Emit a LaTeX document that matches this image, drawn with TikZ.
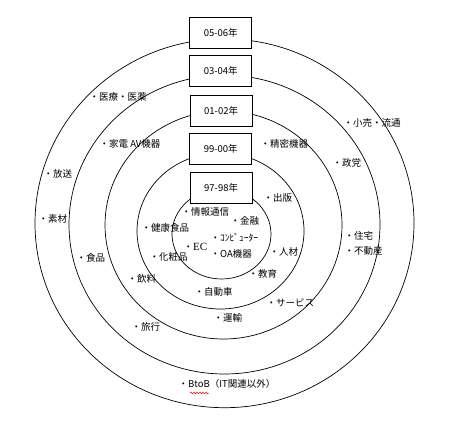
\documentclass[tikz,border=0pt]{standalone}
\usepackage{fontspec}
\newfontfamily\jp{Noto Sans CJK JP}
\newfontfamily\lat{Liberation Serif}
\usetikzlibrary{decorations.pathmorphing}
\tikzset{
  ring/.style={draw=black, line width=0.7pt},
  yearbox/.style={draw=black, fill=white, line width=0.8pt, minimum width=62pt, minimum height=31pt, inner sep=0pt, font=\jp\fontsize{9.5}{11}\selectfont},
  lab/.style={anchor=west, inner sep=0pt, font=\jp\fontsize{9.5}{11}\selectfont, xshift=-4.5pt},
  spell/.style={draw=red, line width=0.5pt, decorate, decoration={snake, segment length=3pt, amplitude=0.8pt}}
}
\begin{document}
\begin{tikzpicture}[x=1pt,y=-1pt]
\useasboundingbox (0,0) rectangle (452,430);
% rings
\draw[ring] (224.5,223.3) ellipse [x radius=189.5pt, y radius=184.4pt];
\draw[ring] (224.5,224.6) ellipse [x radius=155.5pt, y radius=149.4pt];
\draw[ring] (223.5,225) ellipse [x radius=118.5pt, y radius=114pt];
\draw[ring] (220.5,231) ellipse [x radius=83.5pt, y radius=78pt];
\draw[ring] (221.5,234) ellipse [x radius=49.5pt, y radius=45pt];
% year boxes
\node[yearbox] (y0506) at (220.8,33.3) {05-06年};
\node[yearbox] (y0304) at (220.8,71) {03-04年};
\node[yearbox] (y0102) at (221.1,111.3) {01-02年};
\node[yearbox] (y9900) at (220.8,148.8) {99-00年};
\node[yearbox] (y9798) at (221.1,188.3) {97-98年};
% labels
\node[lab] (iryo) at (94,97) {・医療・医薬};
\node[lab] (kouri) at (348,123) {・小売・流通};
\node[lab] (kaden) at (104,144) {・家電 AV機器};
\node[lab] (seimitsu) at (265,144) {・精密機器};
\node[lab] (housou) at (48,174) {・放送};
\node[lab] (seitou) at (337,163) {・政党};
\node[lab] (shuppan) at (268,198) {・出版};
\node[lab] (jouhou) at (186,212) {・情報通信};
\node[lab] (kinyu) at (235,221) {・金融};
\node[lab] (kenkou) at (146,228) {・健康食品};
\node[lab] (computer) at (215,238) {・ｺﾝﾋﾟｭｰﾀｰ};
\node[lab] (ec) at (188,247) {・{\lat\fontsize{11}{12}\selectfont EC}};
\node[lab] (oa) at (215,254) {・OA機器};
\node[lab] (kesho) at (154,257) {・化粧品};
\node[lab] (jinzai) at (274,252) {・人材};
\node[lab] (jutaku) at (349,236) {・住宅};
\node[lab] (fudousan) at (349,251) {・不動産};
\node[lab] (sozai) at (43,219) {・素材};
\node[lab] (shokuhin) at (81,258) {・食品};
\node[lab] (inryo) at (132,279) {・飲料};
\node[lab] (kyoiku) at (253,274) {・教育};
\node[lab] (jidousha) at (199,292) {・自動車};
\node[lab] (service) at (271,303) {・サービス};
\node[lab] (unyu) at (218,318) {・運輸};
\node[lab] (ryokou) at (136,327) {・旅行};
\node[lab] (btob) at (183,384) {・BtoB（IT関連以外）};
\draw[spell] (190,393) -- (209,393);
\end{tikzpicture}
\end{document}
